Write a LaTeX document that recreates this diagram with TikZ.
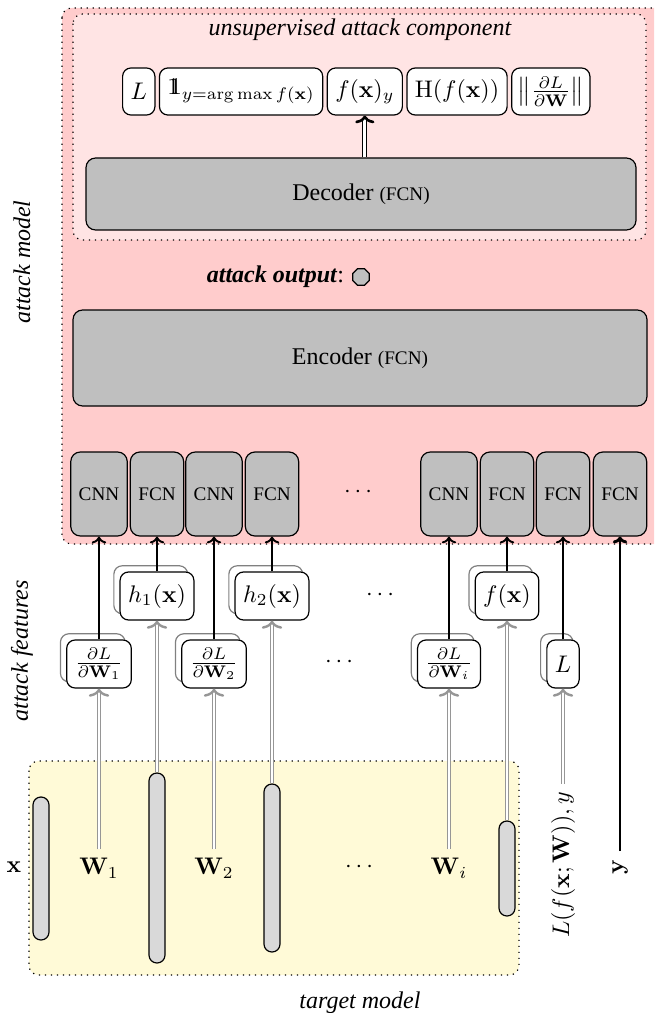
\documentclass[tikz,border=0pt]{standalone}
\usepackage[no-math]{fontspec}
\setmainfont{Liberation Serif}
\usepackage{amsmath}
\usetikzlibrary{arrows.meta,shapes.geometric,shadows}
\definecolor{outerpink}{RGB}{255,204,204}
\definecolor{innerpink}{RGB}{255,228,228}
\definecolor{tmyellow}{RGB}{255,250,215}
\definecolor{boxgray}{RGB}{191,191,191}
\definecolor{bargray}{RGB}{217,217,217}
\definecolor{arrgray}{RGB}{150,150,150}
\newcommand{\myind}{\mathrm{1}\mkern-7.2mu\mathrm{1}}
\begin{document}
\begin{tikzpicture}[x=0.41667pt,y=-0.41667pt,
  container/.style={dotted, line width=0.5pt, rounded corners=4pt},
  graybox/.style={draw, line width=0.5pt, fill=boxgray, rounded corners=4pt},
  smallbox/.style={graybox, font=\footnotesize, minimum height=35pt, inner sep=3.33pt},
  whitebox/.style={draw, line width=0.5pt, fill=white, rounded corners=3.5pt, minimum height=19.6pt, inner sep=3.33pt},
  featbox/.style={whitebox, minimum height=20pt, copy shadow={shadow xshift=-2.6pt, shadow yshift=2.6pt, draw=gray, fill=white, line width=0.5pt}},
  bar/.style={draw, line width=0.5pt, fill=bargray, rounded corners=3.3pt, minimum width=6.67pt, inner sep=0pt},
  blackarrow/.style={draw, line width=0.8pt, -{To[length=2.8pt,width=6pt]}},
  grayarrow/.style={draw=arrgray, line width=0.5pt, double=white, double distance=0.9pt, -{To[length=3.4pt,width=8.5pt,line width=1pt]}},
  dblarrow/.style={draw=black, line width=0.5pt, double=white, double distance=1.1pt, -{To[length=3.2pt,width=8pt,line width=1.1pt]}}
]
\useasboundingbox (0,0) rectangle (654,1013);
\clip (0,0) rectangle (654,1013);

% containers
\draw[container, fill=outerpink] (62,8) rectangle (690,544);
\draw[container, fill=innerpink] (73,14) rectangle (646,240);
\draw[container, fill=tmyellow] (29,761) rectangle (519,975);

% side labels
\node[rotate=90] (amlab) at (22,262) {\itshape attack model};
\node[rotate=90] (aflab) at (22,651) {\itshape attack features};
\node (tmlab) at (360,1003) {\itshape target model};
\node (uclab) at (360,30) {\itshape unsupervised attack component};

% unsupervised outputs
\node[whitebox, anchor=west] (t1) at (122,91.5) {$L$};
\node[whitebox, anchor=west] (t2) at ([xshift=1.4pt]t1.east) {$\myind_{y=\arg\max f(\mathbf{x})}$};
\node[whitebox, anchor=west] (t3) at ([xshift=1.4pt]t2.east) {$f(\mathbf{x})_y$};
\node[whitebox, anchor=west] (t4) at ([xshift=1.4pt]t3.east) {$\mathrm{H}(f(\mathbf{x}))$};
\node[whitebox, anchor=west, inner xsep=2.5pt] (t5) at ([xshift=1.4pt]t4.east) {$\left\|\frac{\partial L}{\partial \mathbf{W}}\right\|$};

% decoder / encoder
\node[graybox, minimum width=550*0.41667pt, minimum height=72*0.41667pt] (dec) at (361,194) {Decoder {\footnotesize (FCN)}};
\node[graybox, minimum width=574*0.41667pt, minimum height=96*0.41667pt] (enc) at (360,358) {Encoder {\footnotesize (FCN)}};
\draw[dblarrow] (dec.north -| t3.south) -- (t3.south);

% attack output
\node[regular polygon, regular polygon sides=8, draw, fill=boxgray, minimum size=7.5pt, inner sep=0pt, line width=0.5pt] (aout) at (361,277) {};
\node[anchor=east, inner sep=1pt] (aotxt) at (347,277) {\textbf{\textit{attack output}}:};

% small networks
\node[smallbox] (c1) at (99,494) {CNN};
\node[smallbox] (c2) at (157,494) {FCN};
\node[smallbox] (c3) at (214,494) {CNN};
\node[smallbox] (c4) at (272,494) {FCN};
\node (mdots) at (360,492) {$\cdots$};
\node[smallbox] (c5) at (449,494) {CNN};
\node[smallbox] (c6) at (507,494) {FCN};
\node[smallbox] (c7) at (563,494) {FCN};
\node[smallbox] (c8) at (620,494) {FCN};

% attack features
\node[featbox] (d1) at (99,664) {$\frac{\partial L}{\partial \mathbf{W}_1}$};
\node[featbox] (h1) at (157,596) {$h_1(\mathbf{x})$};
\node[featbox] (d2) at (214,664) {$\frac{\partial L}{\partial \mathbf{W}_2}$};
\node[featbox] (h2) at (272,596) {$h_2(\mathbf{x})$};
\node (fdots1) at (382,595) {$\cdots$};
\node (fdots2) at (341,662) {$\cdots$};
\node[featbox] (di) at (449,664) {$\frac{\partial L}{\partial \mathbf{W}_i}$};
\node[featbox] (fx) at (507,596) {$f(\mathbf{x})$};
\node[featbox] (lf) at (563,664) {$L$};

% target model
\node[bar, minimum height=143*0.41667pt] (b0) at (41,868.5) {};
\node[bar, minimum height=190*0.41667pt] (b1) at (157,868) {};
\node[bar, minimum height=168*0.41667pt] (b2) at (272,868) {};
\node[bar, minimum height=95*0.41667pt] (b3) at (507,868.5) {};
\node (xl) at (14,867) {$\mathbf{x}$};
\node (w1) at (99,868) {$\mathbf{W}_1$};
\node (w2) at (214,868) {$\mathbf{W}_2$};
\node (tdots) at (361,867) {$\cdots$};
\node (wi) at (449,868) {$\mathbf{W}_i$};
\node[rotate=90] (lossl) at (563,865) {$L(f(\mathbf{x};\mathbf{W})),y$};
\node[rotate=90] (ylab) at (620,867) {$\mathbf{y}$};

% gray arrows
\draw[grayarrow] (w1.north) -- (d1.south);
\draw[grayarrow] (b1.north) -- (h1.south);
\draw[grayarrow] (w2.north) -- (d2.south);
\draw[grayarrow] (b2.north) -- (h2.south);
\draw[grayarrow] (wi.north) -- (di.south);
\draw[grayarrow] (b3.north) -- (fx.south);
\draw[grayarrow] (lossl.east) -- (lf.south);

% black arrows
\draw[blackarrow] (d1.north) -- (c1.south);
\draw[blackarrow] (h1.north) -- (c2.south);
\draw[blackarrow] (d2.north) -- (c3.south);
\draw[blackarrow] (h2.north) -- (c4.south);
\draw[blackarrow] (di.north) -- (c5.south);
\draw[blackarrow] (fx.north) -- (c6.south);
\draw[blackarrow] (lf.north) -- (c7.south);
\draw[blackarrow, line width=1.2pt] (ylab.east) -- (c8.south);
\end{tikzpicture}
\end{document}
